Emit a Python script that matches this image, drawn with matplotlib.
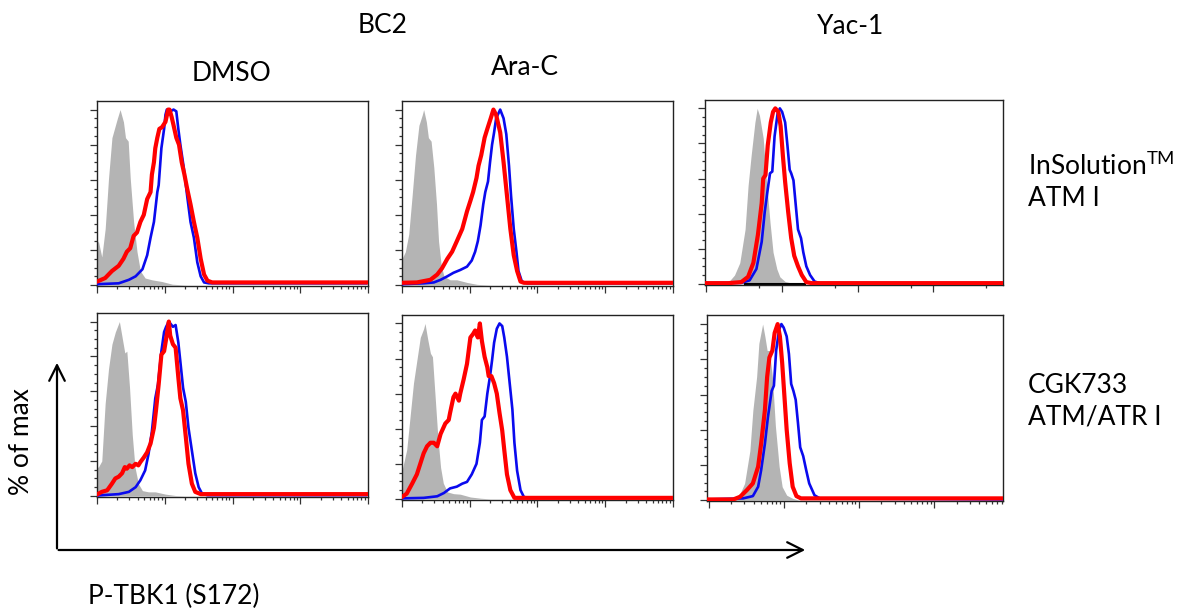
import numpy as np
import matplotlib
matplotlib.use('Agg')
import matplotlib.pyplot as plt
from matplotlib.patches import FancyArrowPatch

plt.rcParams['font.family'] = ['Lato', 'DejaVu Sans']
plt.rcParams['mathtext.fontset'] = 'custom'
plt.rcParams['mathtext.rm'] = 'Lato'

# x in decades of fluorescence (0-4), y in % of max
# row 1 = InSolution ATM I, row 2 = CGK733 ATM/ATR I
# col 1 = BC2 DMSO, col 2 = BC2 Ara-C, col 3 = Yac-1

r1c1_gray_x = [0, 0.02, 0.07, 0.12, 0.17, 0.22, 0.30, 0.34, 0.39, 0.42, 0.46, 0.49, 0.54, 0.59, 0.64, 0.71, 0.81, 0.96, 1.11, 1.31]
r1c1_gray_y = [24, 25, 16, 32, 61, 84, 95, 100, 93, 84, 82, 61, 36, 19, 8, 4, 3, 2, 0.5, 0]
r1c1_blue_x = [0, 0.32, 0.47, 0.57, 0.67, 0.74, 0.79, 0.84, 0.89, 0.91, 0.95, 0.99, 1.01, 1.03, 1.08, 1.13, 1.17, 1.20, 1.23, 1.28,
               1.33, 1.38, 1.43, 1.48, 1.53, 1.58, 1.65, 3.97]
r1c1_blue_y = [0.5, 1, 3, 5, 9, 17, 27, 36, 53, 57, 78, 89, 97, 100, 99, 100, 99, 89, 80, 67, 51, 36, 27, 13, 5, 1.5, 1, 1]
r1c1_red_x = [0, 0.12, 0.22, 0.32, 0.39, 0.44, 0.49, 0.54, 0.59, 0.64, 0.69, 0.74, 0.79, 0.81, 0.84, 0.86, 0.89, 0.92, 0.96, 1.01,
              1.05, 1.07, 1.10, 1.13, 1.17, 1.21, 1.25, 1.29, 1.33, 1.38, 1.43, 1.48, 1.53, 1.58, 1.63, 1.70, 3.97]
r1c1_red_y = [2, 4, 8, 11, 15, 19, 21, 28, 30, 36, 40, 49, 53, 63, 70, 78, 84, 89, 90, 93, 100, 100, 96, 91, 84, 80, 70, 63, 55, 46,
              36, 27, 15, 6, 2.5, 1.5, 1.5]

r1c2_gray_x = [0, 0.05, 0.10, 0.15, 0.20, 0.25, 0.30, 0.32, 0.36, 0.39, 0.43, 0.47, 0.51, 0.54, 0.58, 0.62, 0.71, 0.81, 0.96, 1.11, 1.31]
r1c2_gray_y = [15, 19, 29, 51, 74, 91, 97, 100, 93, 84, 82, 67, 46, 25, 11, 5, 3, 3, 1.5, 0.4, 0]
r1c2_blue_x = [0, 0.32, 0.47, 0.57, 0.67, 0.76, 0.86, 0.96, 1.03, 1.08, 1.12, 1.16, 1.20, 1.23, 1.27, 1.30, 1.33, 1.36, 1.39, 1.45,
               1.50, 1.54, 1.58, 1.61, 1.65, 1.69, 1.72, 1.77, 1.85, 3.97]
r1c2_blue_y = [0.5, 1, 1.5, 3, 5, 7, 8.6, 10.5, 14, 19, 25, 34, 46, 53, 59, 70, 80, 87, 95, 100, 95, 86, 68, 51, 32, 19, 8, 2, 1, 1]
r1c2_red_x = [0, 0.22, 0.42, 0.52, 0.59, 0.67, 0.74, 0.81, 0.89, 0.96, 1.01, 1.05, 1.10, 1.13, 1.17, 1.22, 1.26, 1.31, 1.35, 1.39,
              1.45, 1.50, 1.55, 1.60, 1.65, 1.70, 1.75, 1.80, 3.97]
r1c2_red_y = [1.3, 1.5, 3, 6, 9.5, 15, 19, 25, 32, 42, 48, 53, 61, 68, 74, 84, 89, 95, 100, 97, 87, 70, 51, 32, 17, 8, 2, 1.3, 1.3]

r1c3_gray_x = [0.29, 0.37, 0.44, 0.51, 0.55, 0.59, 0.64, 0.67, 0.70, 0.75, 0.79, 0.84, 0.88, 0.93, 0.97, 1.04, 1.12, 1.20]
r1c3_gray_y = [1, 5, 12, 31, 56, 73, 92, 100, 96, 83, 60, 35, 18, 8.5, 4, 1.3, 0.5, 0]
r1c3_black_x = [0.51, 1.30]
r1c3_black_y = [0, 0]
r1c3_blue_x = [0, 0.46, 0.57, 0.66, 0.73, 0.77, 0.81, 0.84, 0.87, 0.90, 0.94, 0.97, 1.00, 1.04, 1.07, 1.10, 1.12, 1.15, 1.18, 1.21,
               1.25, 1.28, 1.32, 1.37, 1.43, 1.50, 3.92]
r1c3_blue_y = [0.4, 0.6, 2, 8.5, 24, 41, 54, 63, 64, 84, 97, 100, 98, 92, 79, 65, 63, 59, 45, 31, 26, 18, 10, 5, 1.3, 0.4, 0.4]
r1c3_red_x = [0, 0.29, 0.46, 0.55, 0.62, 0.68, 0.73, 0.75, 0.78, 0.81, 0.85, 0.88, 0.91, 0.95, 0.98, 1.01, 1.04, 1.08, 1.12, 1.16,
              1.21, 1.26, 1.32, 1.39, 3.92]
r1c3_red_y = [0.4, 0.4, 1, 4, 12, 28, 46, 60, 62, 79, 92, 98, 100, 98, 90, 73, 58, 41, 26, 16, 10, 5, 1, 0.4, 0.4]

r2c1_gray_x = [0, 0.02, 0.07, 0.12, 0.17, 0.22, 0.27, 0.33, 0.37, 0.41, 0.44, 0.48, 0.52, 0.56, 0.61, 0.67, 0.76, 0.86, 1.01, 1.16, 1.30]
r2c1_gray_y = [16.5, 16.5, 20, 53, 73, 87, 94, 100, 91, 82, 83, 62, 35, 16.5, 7, 3, 2.3, 2.3, 1, 0.2, 0]
r2c1_blue_x = [0, 0.32, 0.47, 0.57, 0.64, 0.71, 0.76, 0.81, 0.86, 0.90, 0.95, 0.99, 1.02, 1.06, 1.12, 1.16, 1.20, 1.23, 1.27, 1.31,
               1.35, 1.40, 1.45, 1.50, 1.55, 1.63, 3.97]
r2c1_blue_y = [0.2, 1, 2.3, 5, 9, 14.6, 24, 37, 56, 64, 83, 94, 97, 100, 97, 98, 88, 77, 62, 54, 39, 26, 13, 5, 1.3, 0.4, 0.4]
r2c1_red_x = [0, 0.07, 0.15, 0.22, 0.27, 0.32, 0.37, 0.41, 0.44, 0.48, 0.52, 0.57, 0.61, 0.64, 0.69, 0.74, 0.79, 0.84, 0.87, 0.91,
              0.95, 0.99, 1.02, 1.06, 1.08, 1.12, 1.16, 1.20, 1.23, 1.27, 1.31, 1.35, 1.40, 1.45, 1.53, 3.97]
r2c1_red_y = [0.8, 2.3, 3.2, 7, 10, 11, 13, 16.5, 15.6, 17.5, 16.5, 18.4, 17.5, 19.4, 22, 25, 30, 39, 49, 64, 81, 83, 90, 100, 92,
              87, 85, 68, 56, 49, 34, 18.4, 7, 2.3, 1, 1]

r2c2_gray_x = [0, 0.07, 0.12, 0.17, 0.22, 0.27, 0.32, 0.34, 0.38, 0.42, 0.45, 0.49, 0.53, 0.57, 0.61, 0.67, 0.76, 0.86, 1.01, 1.16, 1.30]
r2c2_gray_y = [16, 28, 47, 66, 79, 92, 97, 100, 91, 83, 81, 58, 35, 18, 9, 4, 3, 2.7, 1.1, 0.4, 0]
r2c2_blue_x = [0, 0.32, 0.52, 0.62, 0.71, 0.81, 0.89, 0.96, 1.03, 1.10, 1.15, 1.18, 1.22, 1.26, 1.30, 1.33, 1.36, 1.40, 1.44, 1.48,
               1.51, 1.55, 1.59, 1.63, 1.66, 1.70, 1.75, 1.80, 1.87, 3.97]
r2c2_blue_y = [0.3, 0.6, 1.5, 3.4, 6, 7, 8.7, 9.7, 14, 20, 32, 45, 47, 60, 70, 79, 89, 97, 100, 98.5, 92, 81, 66, 51, 32, 16, 5,
               1.1, 0.6, 0.6]
r2c2_red_x = [0, 0.07, 0.15, 0.22, 0.27, 0.32, 0.37, 0.42, 0.47, 0.52, 0.57, 0.64, 0.69, 0.71, 0.76, 0.79, 0.84, 0.86, 0.91, 0.96,
              1.01, 1.05, 1.08, 1.12, 1.15, 1.18, 1.22, 1.26, 1.28, 1.32, 1.36, 1.40, 1.44, 1.48, 1.51, 1.55, 1.60, 1.66, 3.97]
r2c2_red_y = [1.1, 3, 8.7, 14, 20, 26, 30, 32, 32, 30, 37, 43, 45, 49, 58, 60, 56, 60, 68, 77, 92, 94, 96, 92, 100, 90, 81, 75, 70,
              70, 66, 60, 49, 39, 28, 14, 5, 0.6, 0.6]

r2c3_gray_x = [0.33, 0.42, 0.48, 0.55, 0.59, 0.64, 0.67, 0.72, 0.75, 0.78, 0.81, 0.85, 0.89, 0.94, 0.98, 1.04, 1.12, 1.20]
r2c3_gray_y = [1, 3.8, 9.5, 28, 51, 70, 89, 100, 93, 85, 85, 70, 42, 19, 7.6, 2.8, 1, 0]
r2c3_blue_x = [0, 0.46, 0.59, 0.66, 0.70, 0.75, 0.79, 0.84, 0.87, 0.90, 0.94, 0.97, 1.00, 1.04, 1.07, 1.10, 1.13, 1.16, 1.19, 1.22,
               1.26, 1.30, 1.34, 1.41, 1.48, 3.92]
r2c3_blue_y = [0.4, 1, 2.3, 7.6, 17, 32, 47, 62, 65, 85, 97, 100, 98, 93, 83, 66, 62, 57, 44, 30, 25, 17, 9.5, 2.8, 1, 0.4]
r2c3_red_x = [0, 0.33, 0.42, 0.51, 0.59, 0.66, 0.70, 0.75, 0.78, 0.81, 0.85, 0.88, 0.92, 0.95, 0.98, 1.01, 1.04, 1.08, 1.12, 1.17,
              1.23, 3.92]
r2c3_red_y = [0.4, 0.4, 1.9, 5.7, 9.5, 19, 32, 51, 70, 81, 85, 95, 100, 93, 78, 59, 40, 21, 7.6, 2.3, 1, 1]

col_titles = ['DMSO', 'Ara-C', 'Yac-1']
row_titles = ['InSolution$^{\\mathrm{TM}}$\nATM I', 'CGK733\nATM/ATR I']

GRAY = '#b4b4b4'
BLUE = '#0a0aee'
RED = '#ff0000'
FS = 19

fig = plt.figure(figsize=(12.01, 6.11), dpi=100)

# axes boxes in figure fractions (left, bottom, width, height)
boxes = {
    (0, 0): [0.0808, 0.532, 0.2256, 0.303],
    (0, 1): [0.3347, 0.532, 0.2256, 0.303],
    (0, 2): [0.5870, 0.534, 0.2481, 0.303],
    (1, 0): [0.0808, 0.187, 0.2256, 0.301],
    (1, 1): [0.3347, 0.182, 0.2256, 0.303],
    (1, 2): [0.5887, 0.180, 0.2465, 0.304],
}

panels = {
    (0, 0): (r1c1_gray_x, r1c1_gray_y, r1c1_blue_x, r1c1_blue_y, r1c1_red_x, r1c1_red_y),
    (0, 1): (r1c2_gray_x, r1c2_gray_y, r1c2_blue_x, r1c2_blue_y, r1c2_red_x, r1c2_red_y),
    (0, 2): (r1c3_gray_x, r1c3_gray_y, r1c3_blue_x, r1c3_blue_y, r1c3_red_x, r1c3_red_y),
    (1, 0): (r2c1_gray_x, r2c1_gray_y, r2c1_blue_x, r2c1_blue_y, r2c1_red_x, r2c1_red_y),
    (1, 1): (r2c2_gray_x, r2c2_gray_y, r2c2_blue_x, r2c2_blue_y, r2c2_red_x, r2c2_red_y),
    (1, 2): (r2c3_gray_x, r2c3_gray_y, r2c3_blue_x, r2c3_blue_y, r2c3_red_x, r2c3_red_y),
}

log_minor = np.log10(np.arange(2, 10))

for (r, c), (gx, gy, bx, by, rx, ry) in panels.items():
    ax = fig.add_axes(boxes[(r, c)])
    ax.fill_between(gx, gy, 0, color=GRAY, lw=0, zorder=1)
    if (r, c) == (0, 2):
        ax.plot(r1c3_black_x, r1c3_black_y, color='black', lw=1.5, zorder=2)
    ax.plot(bx, by, color=BLUE, lw=1.9, zorder=3, solid_joinstyle='round')
    ax.plot(rx, ry, color=RED, lw=3.0, zorder=4, solid_joinstyle='round')

    if c == 2:
        ax.set_xlim(-0.02, 3.92)
        if r == 0:
            minors = [d + np.log10(5) for d in range(4)]
        else:
            minors = [d + m for d in range(4) for m in log_minor]
        ax.set_xticks([0, 1, 2, 3])
    else:
        ax.set_xlim(0, 4)
        minors = [d + m for d in range(4) for m in log_minor]
        ax.set_xticks([0, 1, 2, 3, 4])
    ax.set_ylim(-0.5, 105)
    ax.set_xticks([m for m in minors if m < ax.get_xlim()[1]], minor=True)
    ax.set_yticks(np.arange(0, 101, 20))
    ax.set_yticks(np.arange(0, 101, 5), minor=True)
    ax.tick_params(which='both', direction='out', labelbottom=False, labelleft=False,
                   color='#333333', width=0.9)
    ax.tick_params(which='major', length=5)
    ax.tick_params(which='minor', length=2.5)
    for s in ax.spines.values():
        s.set_color('#222222')
        s.set_linewidth(1.0)

# column / group labels
fig.text(0.319, 0.959, 'BC2', ha='center', va='center', fontsize=FS)
fig.text(0.193, 0.880, col_titles[0], ha='center', va='center', fontsize=FS)
fig.text(0.437, 0.889, col_titles[1], ha='center', va='center', fontsize=FS)
fig.text(0.708, 0.956, col_titles[2], ha='center', va='center', fontsize=FS)

# row labels
fig.text(0.856, 0.703, row_titles[0], ha='left', va='center', fontsize=FS, linespacing=1.3)
fig.text(0.856, 0.343, row_titles[1], ha='left', va='center', fontsize=FS, linespacing=1.3)

# axis arrows
fig.text(0.018, 0.278, '% of max', rotation=90, ha='center', va='center', fontsize=FS)
fig.text(0.073, 0.023, 'P-TBK1 (S172)', ha='left', va='center', fontsize=FS)
x0, y0 = 57 / 1201, 1 - 550 / 611
fig.add_artist(FancyArrowPatch((x0, y0 - 0.002), (x0, 1 - 360 / 611), transform=fig.transFigure,
                               arrowstyle='->', mutation_scale=28, lw=1.6, color='black'))
fig.add_artist(FancyArrowPatch((x0 - 0.001, y0), (808 / 1201, y0), transform=fig.transFigure,
                               arrowstyle='->', mutation_scale=28, lw=1.6, color='black'))

fig.savefig('out.png', dpi=100)
